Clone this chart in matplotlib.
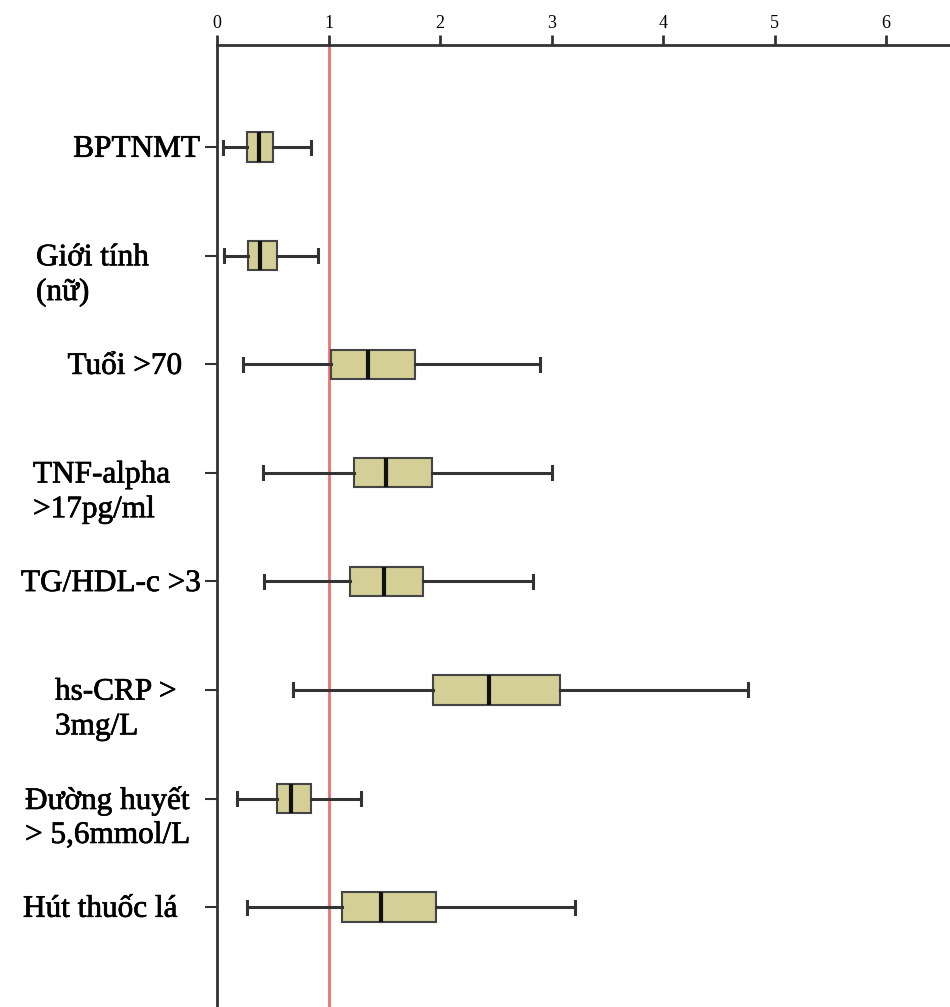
import matplotlib
matplotlib.use('Agg')
import matplotlib.pyplot as plt
import matplotlib.patheffects as pe
from matplotlib.transforms import blended_transform_factory

# data (odds-ratio style box plot)
labels = ['BPTNMT', 'Giới tính\n(nữ)', 'Tuổi >70', 'TNF-alpha\n>17pg/ml',
          'TG/HDL-c >3', 'hs-CRP >\n3mg/L', 'Đường huyết\n> 5,6mmol/L', 'Hút thuốc lá']
whislo = [0.05, 0.06, 0.23, 0.41, 0.42, 0.68, 0.18, 0.27]
q1 = [0.27, 0.28, 1.02, 1.23, 1.19, 1.94, 0.54, 1.12]
med = [0.38, 0.39, 1.35, 1.52, 1.50, 2.44, 0.66, 1.47]
q3 = [0.50, 0.54, 1.78, 1.93, 1.85, 3.08, 0.84, 1.96]
whishi = [0.84, 0.91, 2.90, 3.00, 2.83, 4.76, 1.29, 3.21]
xticks = [0, 1, 2, 3, 4, 5, 6]
ref_value = 1

# label layout: (x in pixels, horizontal alignment)
label_pos = [(200, 'right'), (36, 'left'), (182, 'right'), (33, 'left'),
             (201, 'right'), (55, 'left'), (25, 'left'), (23, 'left')]

W, H = 950, 1007
fig = plt.figure(figsize=(W / 100, H / 100), dpi=100)
ax = fig.add_axes([217 / W, 0, 1 - 217 / W, 1 - 45 / H])

stats = []
for i in range(len(labels)):
    stats.append({'whislo': whislo[i], 'q1': q1[i], 'med': med[i],
                  'q3': q3[i], 'whishi': whishi[i], 'fliers': []})

pos = list(range(len(labels)))
ax.bxp(stats, positions=pos, orientation='horizontal', widths=0.27, capwidths=0.12,
       patch_artist=True, showfliers=False,
       boxprops=dict(facecolor='#d4cf96', edgecolor='#444444', linewidth=1.5),
       medianprops=dict(color='#111111', linewidth=3),
       whiskerprops=dict(color='#333333', linewidth=2.2),
       capprops=dict(color='#333333', linewidth=2.2))

ax.axvline(ref_value, color='#f07070', linewidth=2, zorder=0)

ax.set_xlim(0, (W - 217) / 111.5)
ax.set_ylim(7.92, -0.94)

ax.xaxis.tick_top()
ax.set_xticks(xticks)
ax.set_xticklabels([str(t) for t in xticks], fontsize=13, family='Liberation Serif')
ax.tick_params(axis='x', length=7, width=2, color='#333333', pad=2)
ax.set_yticks(pos)
ax.set_yticklabels([])
ax.tick_params(axis='y', length=9, width=1.5, color='#333333')

for s in ['right', 'bottom']:
    ax.spines[s].set_visible(False)
for s in ['left', 'top']:
    ax.spines[s].set_linewidth(2)
    ax.spines[s].set_color('#333333')

# category labels, first line level with the tick
trans = blended_transform_factory(fig.transFigure, ax.transData)
line_gap = 0.32
for i, lab in enumerate(labels):
    xp, ha = label_pos[i]
    for j, part in enumerate(lab.split('\n')):
        t = ax.text(xp / W, i + 0.02 + j * line_gap, part, transform=trans, ha=ha,
                    va='center', fontsize=22.5, family='Liberation Serif',
                    color='#000000', clip_on=False)
        t.set_path_effects([pe.withStroke(linewidth=0.5, foreground='#000000')])

fig.savefig('out.png', dpi=100)
